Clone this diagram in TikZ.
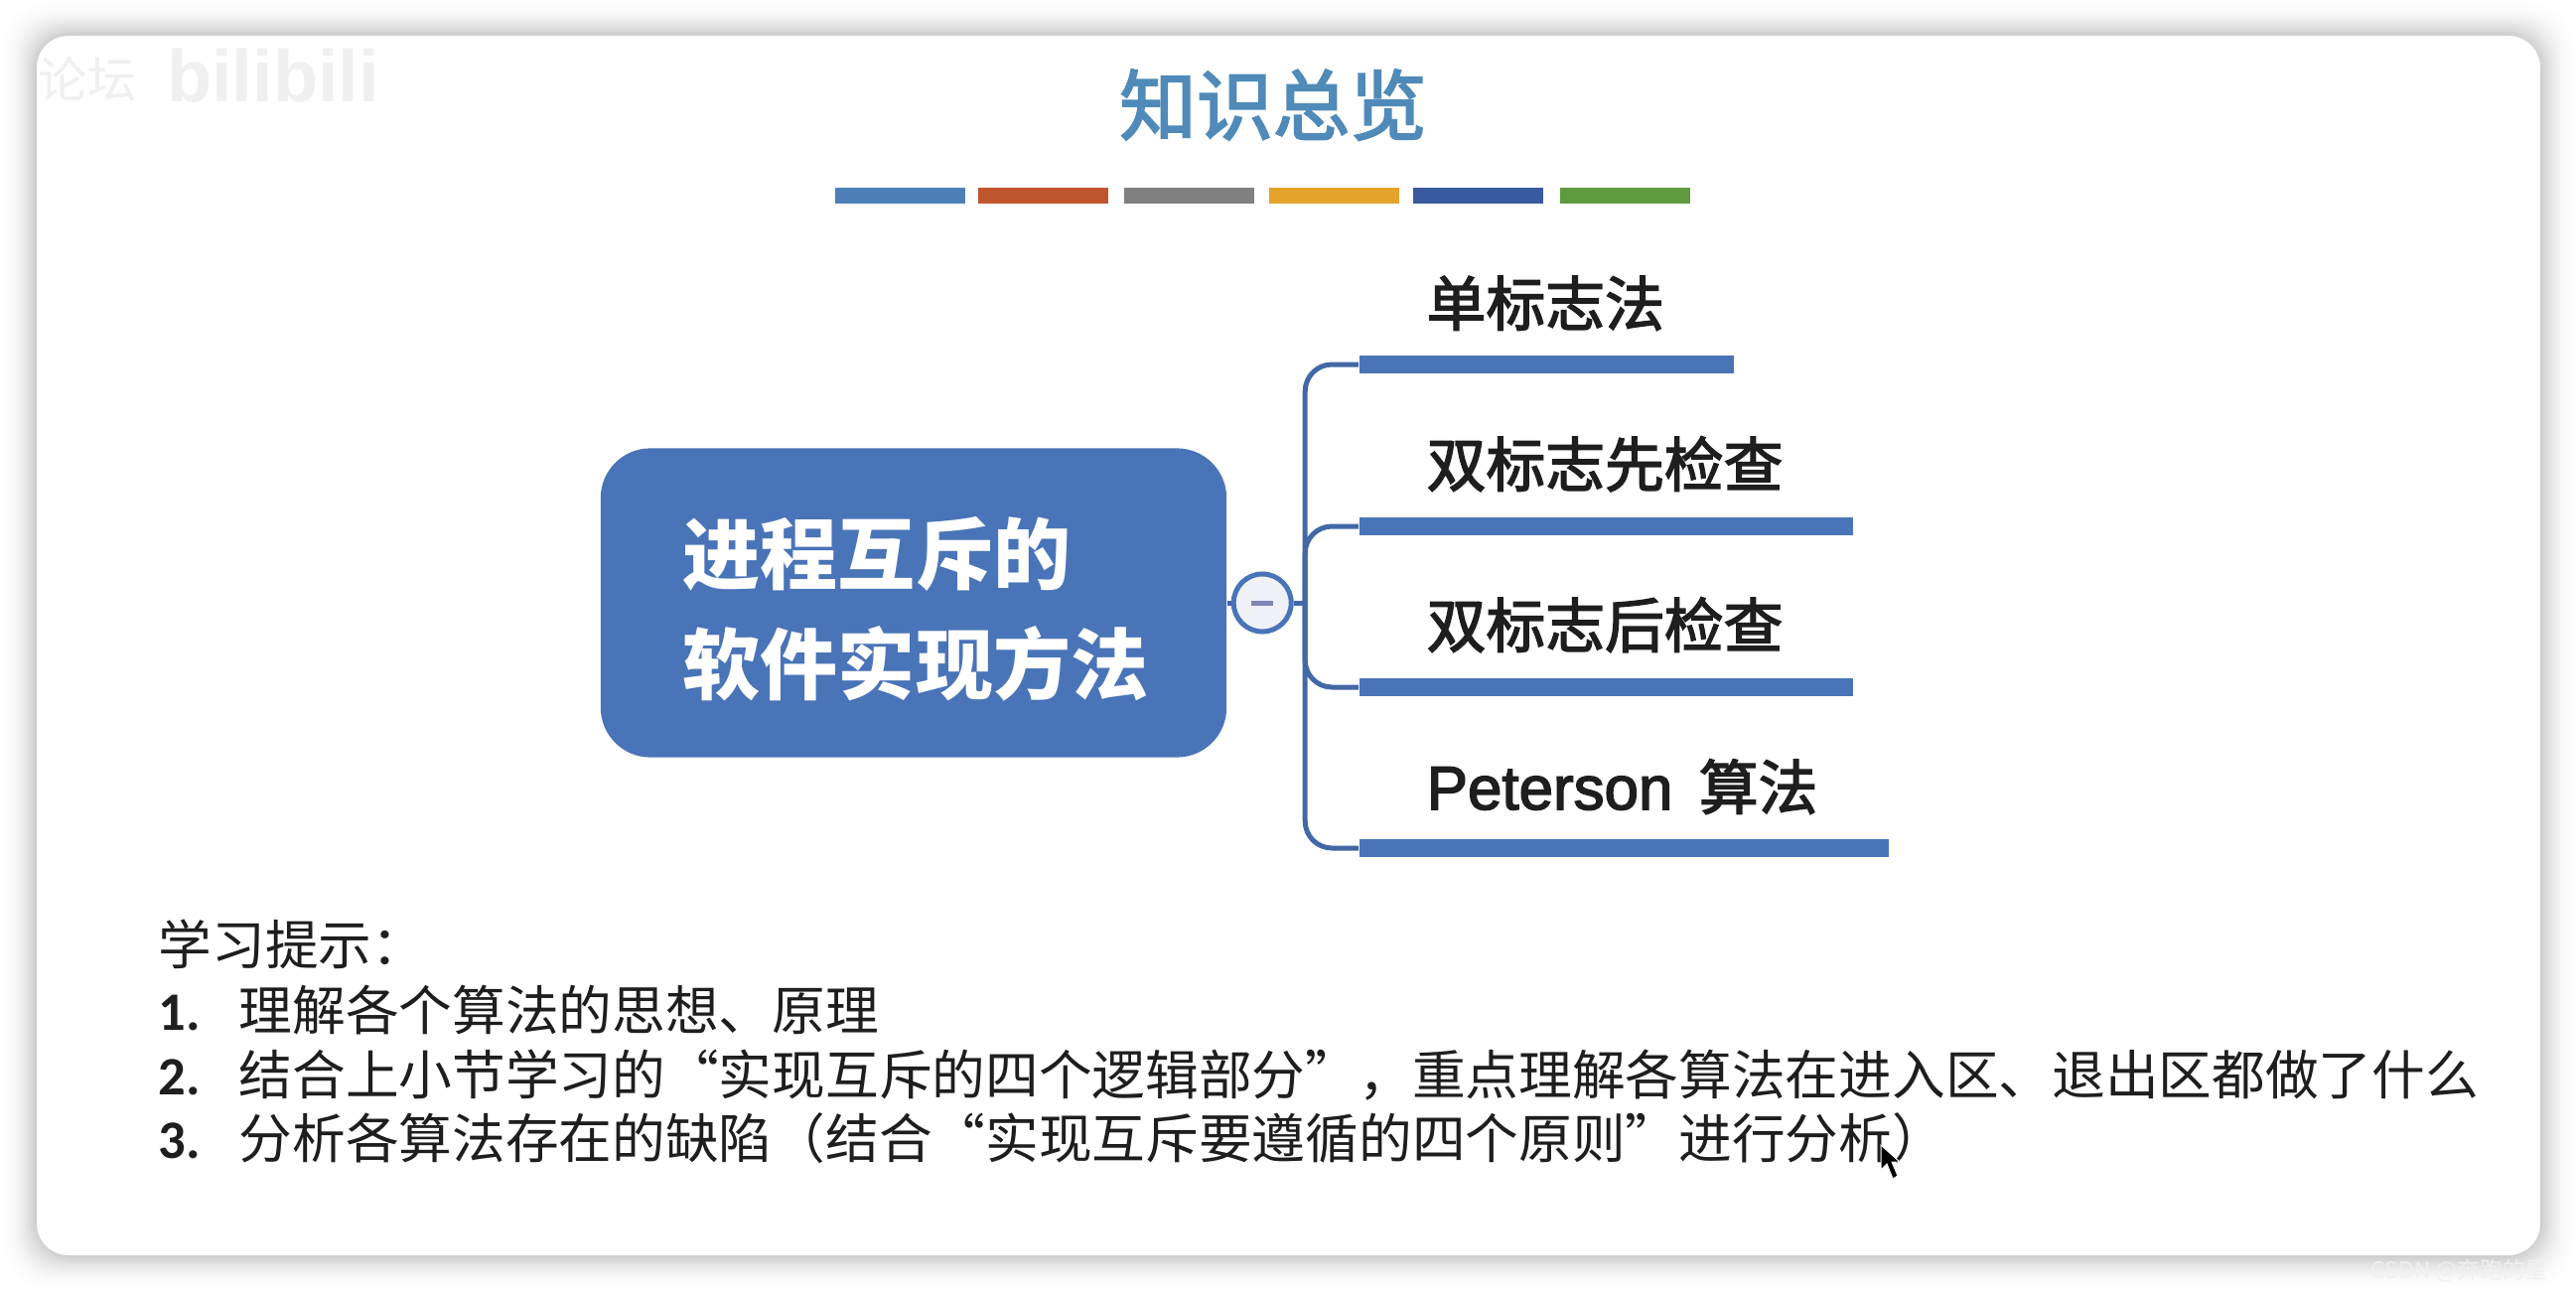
\documentclass[tikz,border=0pt]{standalone}
\usepackage{fontspec}
\setmainfont{Noto Sans CJK SC}
\newfontfamily\midfont[FakeBold=2.5]{Noto Sans CJK SC}
\newfontfamily\latinsans[FakeBold=2.5]{Liberation Sans}
\newfontfamily\markfont{Liberation Sans}
\newfontfamily\numfont{Carlito}
\definecolor{rootblue}{HTML}{4A74B8}
\definecolor{titleblue}{HTML}{4F8AB8}
\definecolor{minusblue}{HTML}{7F86B5}
\definecolor{togglefill}{HTML}{F0F1F8}
\definecolor{inkblack}{HTML}{1E1E1E}
\tikzset{
  stripe/.style = {rectangle, minimum width = 1.31cm, minimum height = .16cm, inner sep = 0, anchor = west},
  twig/.style = {rectangle, fill = rootblue, minimum height = .18cm, inner sep = 0, anchor = west},
  twiglabel/.style = {anchor = base west, inner sep = 0, text = inkblack, font = \fontsize{17}{20}\selectfont\midfont},
  limb/.style = {draw = rootblue!90!black, line width = .05cm},
  hint/.style = {anchor = base west, inner sep = 0, text = inkblack, font = \fontsize{15.27}{18}\selectfont},
  hintnum/.style = {hint, font = \fontsize{15.5}{18}\selectfont\numfont\bfseries},
}
\begin{document}
\begin{tikzpicture}[x = .01cm, y = -.01cm]
  \useasboundingbox (0, 0) rectangle (2594, 1300);
  % soft edge of the card
  \foreach \w in {36, 34, ..., 2} {
    \pgfmathsetmacro{\shade}{100 - 22 * ((36 - \w) / 36)^2}
    \fill[fill = white!\shade!black, rounded corners = .4cm]
      (37 - \w, 36 - \w) rectangle (2558 + \w, 1264 + \w);
  }
  \fill[white, rounded corners = .32cm] (37, 36) rectangle (2558, 1264);

  % faint marks in the corners
  \node[inner sep = 0, text = black!6, font = \fontsize{14}{16}\selectfont] (markforum) at (88, 80) {论坛};
  \node[inner sep = 0, text = black!6, font = \fontsize{21}{24}\selectfont\markfont\bfseries] (markbili) at (275, 76) {bilibili};
  \node[anchor = west, inner sep = 0, text = black!6, font = \fontsize{6.5}{8}\selectfont] (markcsdn) at (2387, 1280) {CSDN @奔跑的星};

  \node[anchor = base, inner sep = 0, text = titleblue, font = \fontsize{22}{26}\selectfont\midfont] (title) at (1282, 135) {知识总览};
  \foreach \name/\x/\col in {a/840/4E80B8, b/984/C0562E, c/1131/808080, d/1277/E5A32C, e/1422/3A5AA0, f/1570/5F9A3F} {
    \definecolor{stripecol}{HTML}{\col}
    \node[stripe, fill = stripecol] (stripe\name) at (\x, 197) {};
  }

  \node[rectangle, rounded corners = .5cm, fill = rootblue, minimum width = 6.3cm, minimum height = 3.11cm, inner sep = 0] (root) at (920, 607) {};
  \node[inner sep = 0, text = white, align = left, font = \fontsize{22.2}{31.6}\selectfont\bfseries] (roottext) at ([xshift = .02cm, yshift = -.06cm] root.center) {进程互斥的\\软件实现方法};
  \node[circle, draw = rootblue, fill = togglefill, line width = .05cm, minimum size = .58cm, inner sep = 0, right of = root, node distance = 3.51cm] (toggle) {};
  \draw[minusblue, line width = .05cm] ([xshift = -.11cm] toggle.center) -- ([xshift = .11cm] toggle.center);
  \coordinate[right of = toggle, node distance = .43cm] (hub);

  \node[twig, minimum width = 3.77cm] (flag) at (1368, 367) {};
  \node[twig, minimum width = 4.97cm] (before) at (1368, 530) {};
  \node[twig, minimum width = 4.97cm] (after) at (1368, 692) {};
  \node[twig, minimum width = 5.33cm] (peterson) at (1368, 854) {};

  \draw[limb] (root) -- (toggle);
  \draw[limb] (toggle) -- (hub);
  \foreach \tip in {flag, before, after, peterson} {
    \draw[limb, rounded corners = .27cm] (hub) |- (\tip.west);
  }

  \node[twiglabel] (flagtext) at (1436, 328) {单标志法};
  \node[twiglabel] (beforetext) at (1436, 490) {双标志先检查};
  \node[twiglabel] (aftertext) at (1436, 652) {双标志后检查};
  \node[twiglabel] (petersontext) at (1436, 815) {{\latinsans\fontsize{17.6}{20}\selectfont Peterson}\hspace{.13cm} 算法};

  \node[hint] (hinthead) at (159, 971) {学习提示：};
  \node[hintnum] (hintnuma) at (159, 1037) {1.};
  \node[hintnum] (hintnumb) at (159, 1102) {2.};
  \node[hintnum] (hintnumc) at (159, 1166) {3.};
  \node[hint] (hinta) at (240, 1037) {理解各个算法的思想、原理};
  \node[hint] (hintb) at (240, 1102) {结合上小节学习的“实现互斥的四个逻辑部分”，重点理解各算法在进入区、退出区都做了什么};
  \node[hint] (hintc) at (240, 1166) {分析各算法存在的缺陷（结合“实现互斥要遵循的四个原则”进行分析）};

  % pointer left on the slide
  \fill[black, draw = white, line width = .01cm] (1894, 1153) -- (1894, 1178) -- (1900, 1172) -- (1906, 1187) -- (1911, 1184) -- (1905, 1170) -- (1913, 1170) -- cycle;
\end{tikzpicture}
\end{document}
